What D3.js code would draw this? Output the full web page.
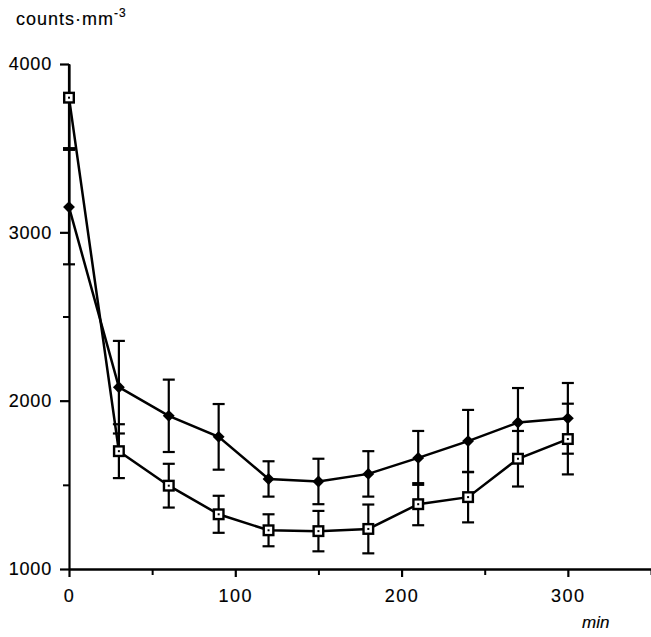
<!DOCTYPE html>
<html>
<head>
<meta charset="utf-8">
<script src="https://cdn.jsdelivr.net/npm/d3@7/dist/d3.min.js"></script>
<style>
  body { margin: 0; background: #fff; }
  svg text { font-family: "Liberation Sans", Arial, sans-serif; fill: #000; stroke: #000; stroke-width: 0.15px; }
</style>
</head>
<body>
<svg id="chart" width="651" height="637"></svg>
<script>
// time points (min)
const times = [0, 30, 60, 90, 120, 150, 180, 210, 240, 270, 300];

// filled diamonds: mean and error
const diamondMean = [3150, 2080, 1910, 1785, 1535, 1520, 1565, 1660, 1760, 1870, 1895];
const diamondErr  = [340, 275, 215, 195, 105, 135, 135, 160, 185, 205, 210];

// open squares: mean and error
const squareMean = [3800, 1700, 1495, 1325, 1230, 1225, 1238, 1385, 1427, 1655, 1772];
const squareErr  = [300, 160, 130, 110, 95, 120, 145, 125, 150, 165, 210];

const yMajor = [1000, 2000, 3000, 4000];
const yMinor = [1500, 2500, 3500];
const xMajor = [0, 100, 200, 300];
const xMinor = [50, 150, 250, 350];

let svg = d3.select("#chart");
let ink = "#000";

let x = d3.scaleLinear().domain([0, 350]).range([69, 651]);
let y = d3.scaleLinear().domain([1000, 4000]).range([569, 64]);

// minor ticks
svg.append("g")
  .attr("transform", "translate(" + x(0) + ",0)")
  .call(d3.axisLeft(y).tickValues(yMinor).tickSize(6).tickFormat(""))
  .call(g => g.select(".domain").remove())
  .selectAll("line").attr("stroke", ink).attr("stroke-width", 2);

svg.append("g")
  .attr("transform", "translate(0," + y(1000) + ")")
  .call(d3.axisBottom(x).tickValues(xMinor).tickSize(6).tickFormat(""))
  .call(g => g.select(".domain").remove())
  .selectAll("line").attr("stroke", ink).attr("stroke-width", 2);

// major y axis
let yAxis = svg.append("g")
  .attr("transform", "translate(" + x(0) + ",0)")
  .call(d3.axisLeft(y).tickValues(yMajor).tickSize(9).tickPadding(8).tickSizeOuter(0).tickFormat(d3.format("d")));
yAxis.select(".domain").attr("stroke", ink).attr("stroke-width", 2.2);
yAxis.selectAll("line").attr("stroke", ink).attr("stroke-width", 2.2);
yAxis.selectAll("text")
  .style("font-size", "18px")
  .style("letter-spacing", "0.8px")
  .attr("fill", ink);

// major x axis
let xAxis = svg.append("g")
  .attr("transform", "translate(0," + y(1000) + ")")
  .call(d3.axisBottom(x).tickValues(xMajor).tickSize(8).tickPadding(12).tickSizeOuter(0));
xAxis.select(".domain").attr("stroke", ink).attr("stroke-width", 2.4);
xAxis.selectAll("line").attr("stroke", ink).attr("stroke-width", 2.2);
xAxis.selectAll("text")
  .style("font-size", "18px")
  .style("letter-spacing", "1.5px")
  .attr("fill", ink);

// axis titles
svg.append("text")
  .attr("x", 16)
  .attr("y", 25)
  .style("font-size", "18px")
  .style("letter-spacing", "1px")
  .text("counts·mm")
  .append("tspan")
    .attr("dy", -8)
    .style("font-size", "12px")
    .text("-3");

svg.append("text")
  .attr("x", 582)
  .attr("y", 628)
  .style("font-size", "17px")
  .style("font-style", "italic")
  .text("min");

// error bars
function drawErrorBars(means, errs) {
  let g = svg.append("g").attr("stroke", ink).attr("stroke-width", 2.2).attr("fill", "none");
  times.forEach(function(t, i) {
    let cx = x(t);
    let hi = means[i] + errs[i];
    let lo = means[i] - errs[i];
    let clipped = hi > 4000;
    g.append("line")
      .attr("x1", cx).attr("x2", cx)
      .attr("y1", y(Math.min(hi, 4000))).attr("y2", y(lo));
    if (!clipped) {
      g.append("line")
        .attr("x1", cx - 6).attr("x2", cx + 6)
        .attr("y1", y(hi)).attr("y2", y(hi));
    }
    g.append("line")
      .attr("x1", cx - 6).attr("x2", cx + 6)
      .attr("y1", y(lo)).attr("y2", y(lo));
  });
}

drawErrorBars(diamondMean, diamondErr);
drawErrorBars(squareMean, squareErr);

// lines
let line = d3.line()
  .x(d => x(d[0]))
  .y(d => y(d[1]));

svg.append("path")
  .attr("d", line(d3.zip(times, diamondMean)))
  .attr("fill", "none")
  .attr("stroke", ink)
  .attr("stroke-width", 2.5);

svg.append("path")
  .attr("d", line(d3.zip(times, squareMean)))
  .attr("fill", "none")
  .attr("stroke", ink)
  .attr("stroke-width", 2.5);

// diamond markers
svg.selectAll(".diamond")
  .data(d3.zip(times, diamondMean))
  .enter()
  .append("path")
  .attr("class", "diamond")
  .attr("d", d3.symbol().type(d3.symbolDiamond2).size(90))
  .attr("transform", d => "translate(" + x(d[0]) + "," + y(d[1]) + ")")
  .attr("fill", ink);

// square markers
let sq = svg.selectAll(".square")
  .data(d3.zip(times, squareMean))
  .enter()
  .append("g")
  .attr("class", "square")
  .attr("transform", d => "translate(" + x(d[0]) + "," + y(d[1]) + ")");

sq.append("rect")
  .attr("x", -4.8).attr("y", -4.8)
  .attr("width", 9.6).attr("height", 9.6)
  .attr("fill", "#fff")
  .attr("stroke", ink)
  .attr("stroke-width", 2.4);

sq.append("rect")
  .attr("x", -1).attr("y", -1)
  .attr("width", 2).attr("height", 2)
  .attr("fill", ink);
</script>
</body>
</html>
